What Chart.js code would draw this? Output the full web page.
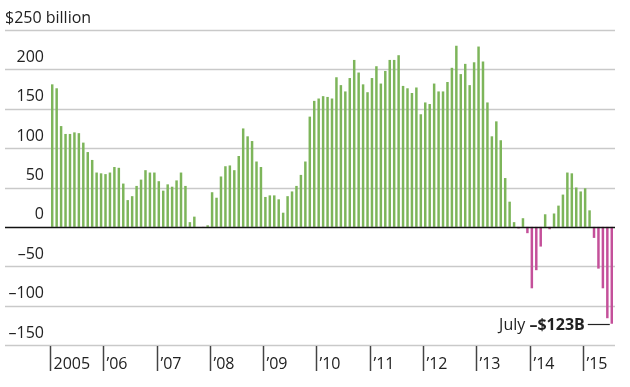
<!DOCTYPE html>
<html>
<head>
<meta charset="utf-8">
<script src="https://cdn.jsdelivr.net/npm/chart.js@4/dist/chart.umd.min.js"></script>
<style>
  html, body { margin: 0; padding: 0; background: #fff; }
</style>
</head>
<body>
<canvas id="chart" width="630" height="387"></canvas>
<script>
// Years on the x axis and their labels
const years = [2005, 2006, 2007, 2008, 2009, 2010, 2011, 2012, 2013, 2014, 2015];
const yearLabels = ['2005', '\u201906', '\u201907', '\u201908', '\u201909', '\u201910',
  '\u201911', '\u201912', '\u201913', '\u201914', '\u201915'];
const monthNames = ['Jan', 'Feb', 'Mar', 'Apr', 'May', 'Jun', 'Jul', 'Aug', 'Sep', 'Oct', 'Nov', 'Dec'];

// Monthly values, $ billion (Jan 2005 - Jul 2015)
const values = [
  181, 176, 128, 118, 118, 120, 119, 107, 95, 85, 69, 68,      // 2005
  67, 69, 76, 75, 55, 34, 39, 52, 60, 72, 69, 69,              // 2006
  58, 46, 54, 51, 59, 69, 52, 6, 13, 0, -1, 2,                 // 2007
  44, 37, 64, 77, 78, 72, 90, 125, 115, 109, 83, 76,           // 2008
  38, 40, 40, 35, 18, 39, 45, 52, 66, 83, 140, 160,            // 2009
  163, 166, 165, 163, 190, 180, 172, 189, 212, 196, 181, 171,  // 2010
  189, 204, 182, 198, 212, 212, 218, 179, 176, 170, 177, 143,  // 2011
  158, 156, 182, 172, 172, 184, 202, 230, 194, 207, 180, 209,  // 2012
  229, 210, 158, 115, 134, 110, 62, 32, 6, -2, 11, -8,         // 2013
  -78, -55, -25, 16, -3, 17, 27, 41, 69, 68, 50, 45,           // 2014
  49, 21, -14, -53, -78, -116, -123                            // 2015
];

// Y axis tick labels
const yTicks = [250, 200, 150, 100, 50, 0, -50, -100, -150];
const yTickLabels = ['$250 billion', '200', '150', '100', '50', '0', '\u201350', '\u2013100', '\u2013150'];

const lastNote = 'July';
const lastNoteBold = '\u2013$123B';

// build month categories from the years
const categories = [];
years.forEach(y => {
  monthNames.forEach(m => {
    if (categories.length < values.length) categories.push(m + ' ' + y);
  });
});

const GREEN = '#7db55a';
const PINK = '#c4509a';
const FONT = '"Open Sans", "Noto Sans", sans-serif';
const TEXT = '#222';

// grid lines, tick labels, year ticks and note
const decorPlugin = {
  id: 'decor',
  beforeDatasetsDraw(chart) {
    const ctx = chart.ctx;
    const yScale = chart.scales.y;
    const right = chart.chartArea.right + 1;
    ctx.save();
    ctx.lineWidth = 1.3;
    ctx.strokeStyle = '#c9c9c9';
    yTicks.forEach(v => {
      if (v === 0) return;
      const py = Math.round(yScale.getPixelForValue(v)) + 0.5;
      ctx.beginPath();
      ctx.moveTo(5, py);
      ctx.lineTo(right, py);
      ctx.stroke();
    });

    ctx.fillStyle = TEXT;
    ctx.font = '16px ' + FONT;
    ctx.textBaseline = 'middle';
    yTicks.forEach((v, i) => {
      const py = yScale.getPixelForValue(v) - 12;
      if (i === 0) {
        ctx.textAlign = 'left';
        ctx.fillText(yTickLabels[i], 5, py);
      } else {
        ctx.textAlign = 'right';
        ctx.fillText(yTickLabels[i], 44, py);
      }
    });
    ctx.restore();
  },
  afterDatasetsDraw(chart) {
    const ctx = chart.ctx;
    const xScale = chart.scales.x;
    const yScale = chart.scales.y;
    const right = chart.chartArea.right + 1;
    ctx.save();

    // zero line
    const y0 = Math.round(yScale.getPixelForValue(0)) + 0.5;
    ctx.strokeStyle = '#111';
    ctx.lineWidth = 1.5;
    ctx.beginPath();
    ctx.moveTo(5, y0);
    ctx.lineTo(right, y0);
    ctx.stroke();

    // year ticks and labels
    const step = xScale.getPixelForValue(1) - xScale.getPixelForValue(0);
    ctx.strokeStyle = '#444';
    ctx.lineWidth = 1.5;
    ctx.fillStyle = TEXT;
    ctx.font = '16px ' + FONT;
    ctx.textAlign = 'left';
    ctx.textBaseline = 'middle';
    years.forEach((y, i) => {
      const px = Math.round(xScale.getPixelForValue(i * 12) - step / 2) + 0.5;
      ctx.beginPath();
      ctx.moveTo(px, 346);
      ctx.lineTo(px, 371);
      ctx.stroke();
      ctx.fillText(yearLabels[i], px + 3, 364);
    });

    // note on the last bar
    const last = values.length - 1;
    const lx = xScale.getPixelForValue(last) - 2;
    const ly = Math.round(yScale.getPixelForValue(values[last])) + 0.5;
    ctx.strokeStyle = '#222';
    ctx.lineWidth = 1.2;
    ctx.beginPath();
    ctx.moveTo(lx - 22, ly);
    ctx.lineTo(lx, ly);
    ctx.stroke();
    ctx.textAlign = 'right';
    ctx.textBaseline = 'alphabetic';
    ctx.font = 'bold 16px ' + FONT;
    const bx = lx - 25;
    ctx.fillText(lastNoteBold, bx, ly + 5);
    const bw = ctx.measureText(lastNoteBold).width;
    ctx.font = '16px ' + FONT;
    ctx.fillText(lastNote + ' ', bx - bw, ly + 5);
    ctx.restore();
  }
};

const ctx = document.getElementById('chart').getContext('2d');
const chart = new Chart(ctx, {
  type: 'bar',
  data: {
    labels: categories,
    datasets: [{
      data: values,
      backgroundColor: values.map(v => v < 0 ? PINK : GREEN),
      borderWidth: 0,
      categoryPercentage: 1,
      barPercentage: 0.56
    }]
  },
  options: {
    responsive: false,
    animation: false,
    devicePixelRatio: 1,
    layout: {
      padding: { left: 50, right: 16, top: 30, bottom: 42 }
    },
    scales: {
      x: { display: false, offset: true },
      y: { display: false, min: -150, max: 250 }
    },
    plugins: {
      legend: { display: false },
      tooltip: { enabled: false }
    }
  },
  plugins: [decorPlugin]
});
</script>
</body>
</html>
